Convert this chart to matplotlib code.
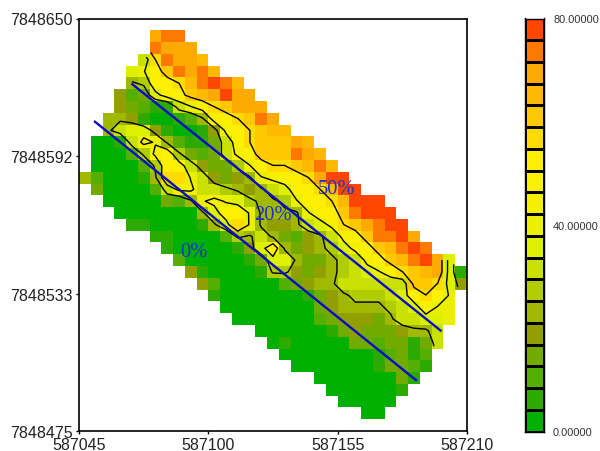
#!/usr/bin/env python3
"""Mappa a celle con isolinee, transetti e scala colori a classi."""
import matplotlib
matplotlib.use("Agg")
import matplotlib.pyplot as plt
from matplotlib.colors import BoundaryNorm, ListedColormap
import numpy as np

plt.rcParams["font.family"] = ["Liberation Sans", "DejaVu Sans"]

# --- Dati ---
# Griglia di celle da 5 m, righe dall'alto verso il basso
X_TICKS = [587045, 587100, 587155, 587210]
Y_TICKS = [7848475, 7848533.33, 7848591.67, 7848650]
Y_TICK_LABELS = ["7848475", "7848533", "7848592", "7848650"]
CB_TICKS = [0, 40, 80]
CB_TICK_LABELS = ["0.00000", "40.00000", "80.00000"]

# Prima colonna occupata da ogni riga (riga 0 vuota)
ROW_FIRST = [6, 6, 5, 4, 4, 3, 3, 2, 2, 1, 1, 1, 0, 1, 2, 3, 4, 6, 7, 8, 9, 10,
             11, 12, 13, 15, 16, 17, 18, 20, 21, 22, 24]
# Classe di colore per cella: 0-9, a=10 ... i=18
ROW_CLASSES = [
    "ghh",
    "hggg",
    "7dhggf",
    "89cehghf",
    "56ccdfhihf",
    "4238bcefgigg",
    "4321179bdeggg",
    "554100125bcdehg",
    "5788410014acdeff",
    "0017a9521137bdeeegf",
    "00026ac63237aceeehgf",
    "000026cb743369cddefhf",
    "5200015dd9743459abcdgii",
    "3000027aa77654578bcdfii",
    "000003259a9865569bcdfiii",
    "000000058bc955559bcehiii",
    "110000158d9544578adeghii",
    "1100002657532457acehhig",
    "100000148c534568acefhih",
    "2000001388533567acefhig8",
    "41000016643456789bdefg81",
    "420000023455777777eed84",
    "10000000134566678bdc9",
    "00000000345555678b99",
    "0000000234443577889",
    "0000001343334557",
    "010000033233137",
    "0000000012312",
    "000000013321",
    "000000031",
    "0000001",
    "00000",
    "00",
]

# Livelli delle isolinee
CONTOUR_LEVELS = [25, 41, 57]

# Transetti blu
LINE1_X = [587067.7, 587198.8]
LINE1_Y = [7848622.1, 7848517.6]
LINE2_X = [587051.8, 587188.3]
LINE2_Y = [7848606.2, 7848496.6]

# Etichette delle zone
ZONE_LABELS = ["0%", "20%", "50%"]
ZONE_X = [587094, 587127.5, 587154.5]
ZONE_Y = [7848551, 7848567, 7848578]

# Colori delle classi, dal basso verso l'alto
CLASS_COLORS = ["#00b000", "#2daa00", "#55af00", "#73aa00", "#91a000", "#a0b900",
                "#afcd00", "#c8e100", "#dcf000", "#ebf000", "#f5f000", "#faf000",
                "#fff000", "#ffdc00", "#ffc800", "#ffb900", "#ffaa00", "#ff7800",
                "#ff4600"]

# --- Costanti del grafico ---
N_COLS = 33
N_ROWS = 35
CELL = 5
X0 = 587045
Y1 = 7848650
N_CLASSES = len(CLASS_COLORS)


def main():
    """Funzione principale."""
    # Griglia dei valori: ogni classe vale il centro del suo intervallo
    grid = np.full((N_ROWS, N_COLS), np.nan)
    for r, (first, row) in enumerate(zip(ROW_FIRST, ROW_CLASSES), start=1):
        for c, ch in enumerate(row):
            grid[r, first + c] = (int(ch, 19) + 0.5) * 80 / N_CLASSES
    grid = np.ma.masked_invalid(grid)

    x_edges = X0 + CELL * np.arange(N_COLS + 1)
    y_edges = Y1 - CELL * np.arange(N_ROWS + 1)
    x_mid = (x_edges[:-1] + x_edges[1:]) / 2
    y_mid = (y_edges[:-1] + y_edges[1:]) / 2

    bounds = np.linspace(0, 80, N_CLASSES + 1)
    cmap = ListedColormap(CLASS_COLORS)
    norm = BoundaryNorm(bounds, cmap.N)

    fig = plt.figure(figsize=(6.0, 4.52), dpi=100)
    ax = fig.add_axes([79 / 600, 1 - 432 / 452, 388 / 600, 412.5 / 452])
    ax.pcolormesh(x_edges, y_edges, grid, cmap=cmap, norm=norm)
    ax.contour(x_mid, y_mid, grid, levels=CONTOUR_LEVELS, colors="black", linewidths=1.0)

    ax.plot(LINE1_X, LINE1_Y, color="#0a0ac8", lw=1.7)
    ax.plot(LINE2_X, LINE2_Y, color="#0a0ac8", lw=1.7)
    for label, x, y in zip(ZONE_LABELS, ZONE_X, ZONE_Y):
        ax.text(x, y, label, color="#1e32c8", fontsize=14.8, family="Liberation Serif",
                ha="center", va="center")

    ax.set_xlim(X_TICKS[0], X_TICKS[-1])
    ax.set_ylim(Y_TICKS[0], Y_TICKS[-1])
    ax.set_xticks(X_TICKS, [str(v) for v in X_TICKS])
    ax.set_yticks(Y_TICKS, Y_TICK_LABELS)
    ax.tick_params(labelsize=11.5, length=2.5, width=1, pad=2, labelcolor="#222222")
    for spine in ax.spines.values():
        spine.set_linewidth(1.2)

    # Scala colori a caselle
    cax = fig.add_axes([525 / 600, 1 - 432.5 / 452, 19 / 600, 413 / 452])
    cax.pcolormesh([0, 1], bounds, (bounds[:-1] + bounds[1:]).reshape(-1, 1) / 2, cmap=cmap,
                   norm=norm, edgecolors="black", linewidth=1.0)
    cax.set_xticks([])
    cax.yaxis.tick_right()
    cax.set_yticks(CB_TICKS, CB_TICK_LABELS)
    cax.tick_params(length=0, labelsize=7.9, pad=6.5, labelcolor="#333333")
    for spine in cax.spines.values():
        spine.set_linewidth(1.0)

    fig.savefig("out.png", dpi=100)


if __name__ == "__main__":
    main()
